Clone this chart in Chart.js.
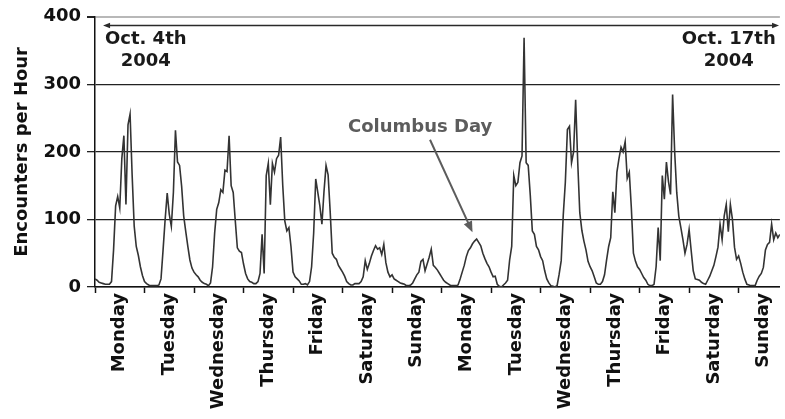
<!DOCTYPE html>
<html>
<head>
<meta charset="utf-8">
<title>Encounters per Hour</title>
<script src="https://cdn.jsdelivr.net/npm/chart.js@4.4.1/dist/chart.umd.min.js"></script>
<style>
    html, body { margin: 0; padding: 0; background: #fff; overflow: hidden; }
    #wrap { width: 785px; height: 419px; }
</style>
</head>
<body>
<div id="wrap"><canvas id="chart" width="785" height="419"></canvas></div>
<script>
/* ---------- DATA: encounters per hour, one array per day ---------- */
const dayNames = ["Monday", "Tuesday", "Wednesday", "Thursday", "Friday", "Saturday", "Sunday",
                  "Monday", "Tuesday", "Wednesday", "Thursday", "Friday", "Saturday", "Sunday"];

const oct04 = [12, 10, 7, 6, 5, 4, 4, 4, 8, 55, 120, 134, 117, 190, 224, 122, 240, 256, 166, 90, 60, 47, 30, 17];
const oct05 = [8, 5, 3, 2, 2, 2, 2, 3, 12, 55, 100, 139, 108, 90, 140, 232, 185, 180, 149, 105, 82, 60, 40, 28];
const oct06 = [22, 18, 15, 10, 7, 5, 4, 2, 6, 30, 80, 115, 125, 144, 140, 173, 171, 224, 150, 140, 98, 58, 53, 51];
const oct07 = [34, 20, 12, 8, 7, 5, 5, 8, 20, 78, 20, 165, 183, 122, 183, 170, 190, 195, 222, 151, 98, 83, 88, 60];
const oct08 = [22, 15, 12, 9, 4, 4, 5, 3, 8, 30, 80, 160, 140, 120, 93, 141, 180, 166, 112, 50, 44, 41, 32, 27];
const oct09 = [22, 16, 8, 5, 3, 3, 5, 5, 5, 8, 15, 39, 26, 35, 46, 54, 61, 56, 58, 48, 63, 36, 22, 15];
const oct10 = [18, 12, 10, 8, 6, 5, 4, 2, 2, 3, 6, 12, 18, 22, 38, 41, 24, 34, 44, 56, 32, 29, 25, 20];
const oct11 = [15, 10, 7, 5, 3, 2, 2, 2, 3, 12, 22, 32, 45, 54, 58, 64, 68, 71, 66, 61, 50, 42, 35, 30];
const oct12 = [22, 15, 16, 4, 1, 0, 3, 6, 10, 40, 60, 165, 150, 155, 184, 194, 369, 184, 180, 136, 83, 78, 60, 55];
const oct13 = [45, 39, 24, 12, 6, 2, 1, 0, 2, 19, 39, 107, 155, 233, 238, 184, 200, 277, 185, 110, 84, 68, 55, 38];
const oct14 = [30, 24, 15, 6, 4, 4, 8, 18, 40, 60, 73, 141, 110, 170, 190, 207, 200, 215, 161, 170, 117, 50, 38, 30];
const oct15 = [26, 20, 14, 10, 4, 2, 2, 4, 30, 88, 39, 165, 130, 185, 156, 137, 285, 200, 140, 105, 88, 70, 50, 63];
const oct16 = [85, 54, 24, 12, 11, 10, 7, 5, 4, 10, 16, 24, 32, 45, 59, 93, 70, 105, 122, 82, 122, 100, 59, 41];
const oct17 = [46, 35, 22, 12, 4, 3, 2, 2, 2, 10, 16, 20, 29, 55, 63, 66, 93, 70, 80, 73, 78];

const yTicks = [0, 100, 200, 300, 400];
const lastHour = 332;

const days = [oct04, oct05, oct06, oct07, oct08, oct09, oct10,
              oct11, oct12, oct13, oct14, oct15, oct16, oct17];

// hour index since Oct 4th 00:00
const points = [];
days.forEach((day, d) => {
    day.forEach((v, h) => points.push({ x: d * 24 + h, y: v }));
});

const FONT = "'DejaVu Sans', Verdana, sans-serif";
const boldFont = { family: FONT, size: 18, weight: "bold" };

/* ---------- ANNOTATIONS (in axis units) ---------- */
const rangeArrow = { from: 3.9, to: 331.6, value: 388 };
const dateLabels = [
    { hour: 24.6, lines: ["Oct. 4th", "2004"] },
    { hour: 307.2, lines: ["Oct. 17th", "2004"] }
];
const holiday = {
    text: "Columbus Day",
    textAt: { hour: 157.6, value: 237 },
    from: { hour: 162.4, value: 218 },
    to: { hour: 183, value: 81 }
};

function arrowHead(ctx, x0, y0, x1, y1, len, half) {
    const a = Math.atan2(y1 - y0, x1 - x0);
    ctx.beginPath();
    ctx.moveTo(x1, y1);
    ctx.lineTo(x1 - len * Math.cos(a) + half * Math.sin(a), y1 - len * Math.sin(a) - half * Math.cos(a));
    ctx.lineTo(x1 - len * Math.cos(a) - half * Math.sin(a), y1 - len * Math.sin(a) + half * Math.cos(a));
    ctx.closePath();
    ctx.fill();
}

const notes = {
    id: "notes",
    afterDraw(chart) {
        const { ctx } = chart;
        const x = chart.scales.x;
        const y = chart.scales.y;
        ctx.save();

        // double-headed arrow spanning the two weeks
        const ay = Math.round(y.getPixelForValue(rangeArrow.value)) + 0.5;
        const ax0 = x.getPixelForValue(rangeArrow.from);
        const ax1 = x.getPixelForValue(rangeArrow.to);
        ctx.strokeStyle = "#2a2a2a";
        ctx.fillStyle = "#2a2a2a";
        ctx.lineWidth = 1.4;
        ctx.beginPath();
        ctx.moveTo(ax0 + 4, ay);
        ctx.lineTo(ax1 - 4, ay);
        ctx.stroke();
        arrowHead(ctx, ax1, ay, ax0, ay, 7, 2.8);
        arrowHead(ctx, ax0, ay, ax1, ay, 7, 2.8);

        // start / end dates
        ctx.font = "bold 18px " + FONT;
        ctx.fillStyle = "#1a1a1a";
        ctx.textAlign = "center";
        ctx.textBaseline = "middle";
        dateLabels.forEach(l => {
            const cx = x.getPixelForValue(l.hour);
            ctx.fillText(l.lines[0], cx, 39.5);
            ctx.fillText(l.lines[1], cx, 61.5);
        });

        // holiday callout
        ctx.fillStyle = "#5c5c5c";
        ctx.strokeStyle = "#5c5c5c";
        ctx.fillText(holiday.text, x.getPixelForValue(holiday.textAt.hour), y.getPixelForValue(holiday.textAt.value));
        const hx0 = x.getPixelForValue(holiday.from.hour);
        const hy0 = y.getPixelForValue(holiday.from.value);
        const hx1 = x.getPixelForValue(holiday.to.hour);
        const hy1 = y.getPixelForValue(holiday.to.value);
        ctx.lineWidth = 2;
        ctx.beginPath();
        ctx.moveTo(hx0, hy0);
        ctx.lineTo(hx1 - (hx1 - hx0) * 0.08, hy1 - (hy1 - hy0) * 0.08);
        ctx.stroke();
        arrowHead(ctx, hx0, hy0, hx1, hy1, 11, 4.5);

        ctx.restore();
    }
};

/* ---------- CHART ---------- */
const chart = new Chart(document.getElementById("chart"), {
    type: "line",
    data: {
        datasets: [{
            data: points,
            borderColor: "#333",
            borderWidth: 1.6,
            pointRadius: 0,
            tension: 0,
            fill: false
        }]
    },
    options: {
        responsive: false,
        animation: false,
        layout: { padding: { top: 14, right: 1, left: 0, bottom: 0 } },
        plugins: {
            legend: { display: false },
            tooltip: { enabled: false }
        },
        scales: {
            x: {
                type: "linear",
                min: 0,
                max: lastHour,
                afterBuildTicks: scale => {
                    const t = [];
                    for (let v = 0; v <= lastHour; v += 12) t.push({ value: v });
                    scale.ticks = t;
                },
                afterFit: scale => { scale.height = 132; },
                ticks: {
                    autoSkip: false,
                    minRotation: 90,
                    maxRotation: 90,
                    padding: 0,
                    color: "#111",
                    font: boldFont,
                    callback: v => (v % 24 === 12 ? dayNames[(v - 12) / 24] : "")
                },
                grid: {
                    drawOnChartArea: false,
                    drawTicks: true,
                    tickLength: 6,
                    tickWidth: 1.5,
                    tickColor: c => (c.tick && c.tick.value % 24 === 0 ? "#111" : "rgba(0,0,0,0)")
                },
                border: { display: true, color: "#111", width: 1.5 }
            },
            y: {
                min: 0,
                max: 400,
                afterBuildTicks: scale => {
                    scale.ticks = yTicks.map(v => ({ value: v }));
                },
                afterFit: scale => { scale.width = 95; },
                ticks: {
                    padding: 6,
                    color: "#111",
                    font: boldFont
                },
                grid: {
                    color: c => (c.tick && c.tick.value === 400 ? "#b8b8b8" : "#222"),
                    lineWidth: c => (c.tick && c.tick.value === 400 ? 2 : 1.3),
                    tickColor: "#222",
                    tickLength: 8
                },
                border: { display: true, color: "#111", width: 1.5 },
                title: {
                    display: true,
                    text: "Encounters per Hour",
                    color: "#111",
                    font: boldFont,
                    padding: { top: 12, bottom: 0 }
                }
            }
        }
    },
    plugins: [notes]
});
</script>
</body>
</html>
